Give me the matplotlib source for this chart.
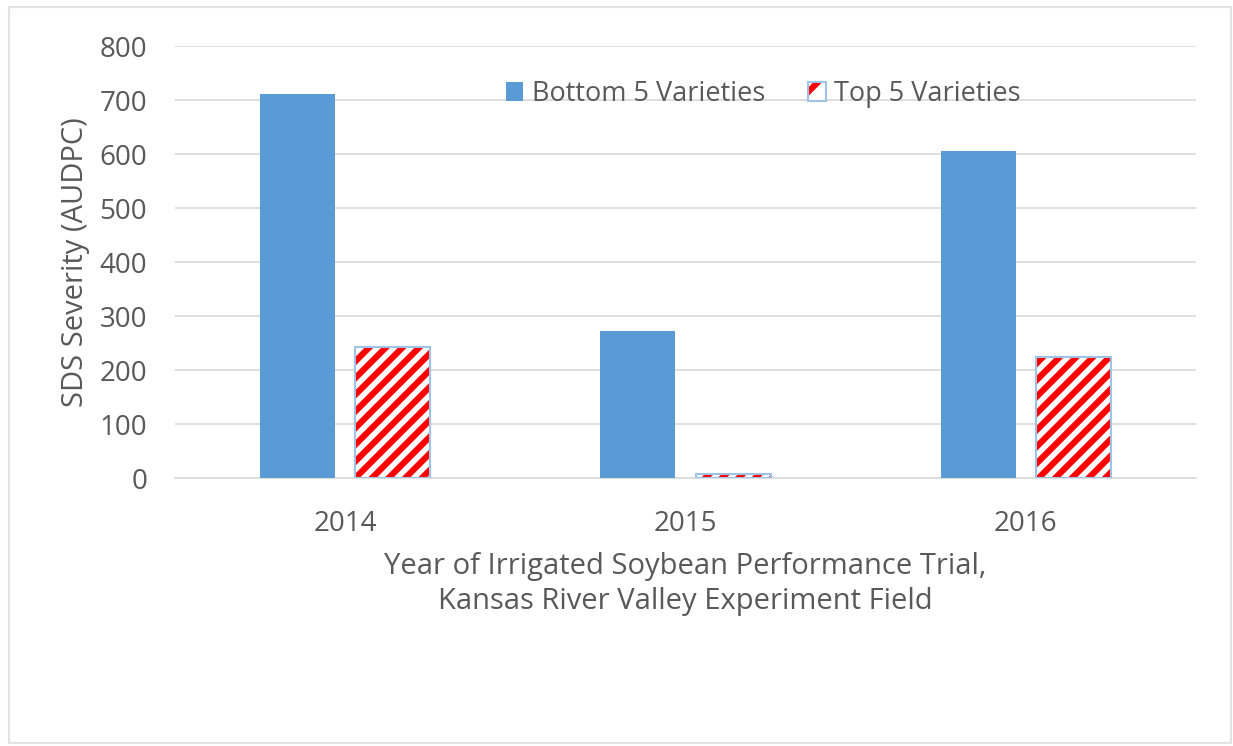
#!/usr/bin/env python3
"""Clustered bars of SDS severity (AUDPC) for the bottom and top five soybean
varieties in three years of the irrigated performance trial."""
import matplotlib as mpl
mpl.use("Agg")
import matplotlib.pyplot as plt
import numpy as np
from matplotlib.patches import Patch, Rectangle

YEARS = ["2014", "2015", "2016"]
BOTTOM5 = [712, 272, 606]
TOP5 = [243, 8, 224]
YTICKS = [0, 100, 200, 300, 400, 500, 600, 700, 800]

BLUE = "#5B9BD5"
RED = "#FF0000"
EDGE = "#9DC3E6"
GRID = "#D9D9D9"
TXT = "#595959"

mpl.rcParams.update({
    "font.family": ["Open Sans", "DejaVu Sans"],
    "hatch.linewidth": 4.5,
})

fig = plt.figure(figsize=(12.33, 7.46), dpi=100)
ax = fig.add_axes([0.1419, 0.3592, 0.8281, 0.5791])

x = np.arange(len(YEARS))
w, off = 0.22, 0.14
ax.bar(x - off, BOTTOM5, w, color=BLUE, zorder=3)
# hatched fill first, then a light blue outline on top
ax.bar(x + off, TOP5, w, facecolor="white", edgecolor=RED, hatch="//",
       lw=0, zorder=3)
ax.bar(x + off, TOP5, w, fill=False, edgecolor=EDGE, lw=1.5, zorder=4)

ax.set_xlim(-0.5, 2.5)
ax.set_ylim(0, 800)
ax.set_yticks(YTICKS)
ax.set_xticks(x)
ax.set_xticklabels(YEARS)
ax.grid(axis="y", color=GRID, lw=1.2, zorder=0)
for s in ("top", "right", "left"):
    ax.spines[s].set_visible(False)
ax.spines["bottom"].set_color(GRID)
ax.spines["bottom"].set_linewidth(1.2)
ax.tick_params(length=0, labelsize=20, labelcolor=TXT)
ax.tick_params(axis="y", pad=20)
ax.tick_params(axis="x", pad=23)
ax.set_ylabel("SDS Severity (AUDPC)", fontsize=21, color=TXT, labelpad=7)
ax.set_xlabel("Year of Irrigated Soybean Performance Trial,\n"
              "Kansas River Valley Experiment Field",
              fontsize=21, color=TXT, labelpad=10, linespacing=1.3)

handles = [Patch(facecolor=BLUE, edgecolor=BLUE, lw=0),
           (Patch(facecolor="white", edgecolor=RED, hatch="/", lw=0),
            Patch(fill=False, edgecolor=EDGE, lw=1.5))]
fig.legend(handles, ["Bottom 5 Varieties", "Top 5 Varieties"],
           loc="center", bbox_to_anchor=(0.619, 0.874), ncol=2,
           frameon=False, fontsize=19.5, labelcolor=TXT,
           handlelength=0.65, handleheight=0.7, handletextpad=0.3,
           columnspacing=1.6)

fig.patches.append(Rectangle((0.007, 0.004), 0.991, 0.986,
                             transform=fig.transFigure, fill=False,
                             edgecolor="#E3E3E3", lw=1.5))
fig.savefig("out.png", dpi=100)
